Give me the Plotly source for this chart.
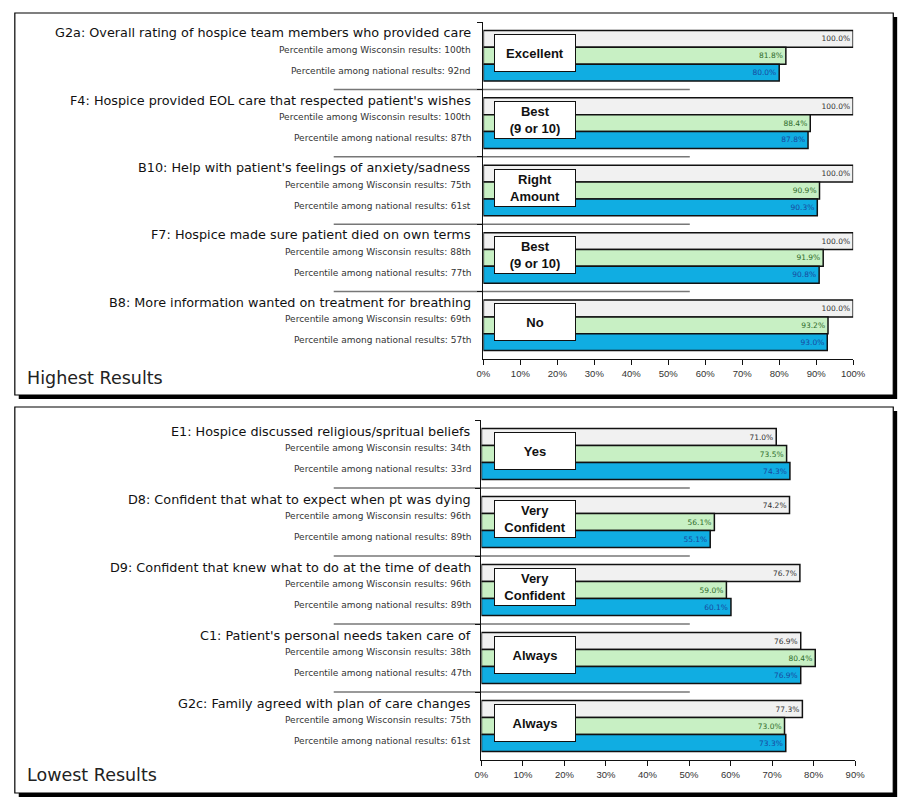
import plotly.graph_objects as go

W, H = 918, 807

# ---------------- data ----------------
top_questions = [
    "G2a: Overall rating of hospice team members who provided care",
    "F4: Hospice provided EOL care that respected patient's wishes",
    "B10: Help with patient's feelings of anxiety/sadness",
    "F7: Hospice made sure patient died on own terms",
    "B8: More information wanted on treatment for breathing",
]
top_answers = ["Excellent", "Best<br>(9 or 10)", "Right<br>Amount", "Best<br>(9 or 10)", "No"]
top_wisc_pct = ["100th", "100th", "75th", "88th", "69th"]
top_nat_pct = ["92nd", "87th", "61st", "77th", "57th"]
top_white = [100.0, 100.0, 100.0, 100.0, 100.0]
top_green = [81.8, 88.4, 90.9, 91.9, 93.2]
top_blue = [80.0, 87.8, 90.3, 90.8, 93.0]

bot_questions = [
    "E1: Hospice discussed religious/spritual beliefs",
    "D8: Confident that what to expect when pt was dying",
    "D9: Confident that knew what to do at the time of death",
    "C1: Patient's personal needs taken care of",
    "G2c: Family agreed with plan of care changes",
]
bot_answers = ["Yes", "Very<br>Confident", "Very<br>Confident", "Always", "Always"]
bot_wisc_pct = ["34th", "96th", "96th", "38th", "75th"]
bot_nat_pct = ["33rd", "89th", "89th", "47th", "61st"]
bot_white = [71.0, 74.2, 76.7, 76.9, 77.3]
bot_green = [73.5, 56.1, 59.0, 80.4, 73.0]
bot_blue = [74.3, 55.1, 60.1, 76.9, 73.3]

top_ticks = [0, 10, 20, 30, 40, 50, 60, 70, 80, 90, 100]
bot_ticks = [0, 10, 20, 30, 40, 50, 60, 70, 80, 90]
panel_titles = ["Highest Results", "Lowest Results"]

# ---------------- styling ----------------
FONT = "DejaVu Sans, Arial, sans-serif"
FONT_B = "Liberation Sans, Arial, sans-serif"
C_WHITE, C_GREEN, C_BLUE = "#f1f1f1", "#c8f0c4", "#10ade2"
T_WHITE, T_GREEN, T_BLUE = "#333333", "#2f6b2a", "#1a4aa0"


def px(x):
    return x / W


def py(y):
    return 1 - y / H


fig = go.Figure()

panels = [
    dict(q=top_questions, a=top_answers, wp=top_wisc_pct, np_=top_nat_pct,
         w=top_white, g=top_green, b=top_blue, ticks=top_ticks, rng=[0, 100],
         xa="x", ya="y", xdom=[px(487), px(865)], ydom=[py(359), py(22)],
         box=(8, 13, 906, 395), title=panel_titles[0], ty=378),
    dict(q=bot_questions, a=bot_answers, wp=bot_wisc_pct, np_=bot_nat_pct,
         w=bot_white, g=bot_green, b=bot_blue, ticks=bot_ticks, rng=[0, 90],
         xa="x2", ya="y2", xdom=[px(485), px(867)], ydom=[py(760), py(420)],
         box=(8, 407, 906, 793), title=panel_titles[1], ty=775),
]

shapes = []
annotations = []

for i, p in enumerate(panels):
    # panel frames (shadow + frame)
    x0, y0, x1, y1 = p["box"]
    shapes.append(dict(type="rect", xref="paper", yref="paper", layer="below",
                       x0=px(x0 + 4), x1=px(x1 + 4), y0=py(y1 + 4), y1=py(y0 + 4),
                       fillcolor="#000000", line=dict(width=0)))
    shapes.append(dict(type="rect", xref="paper", yref="paper", layer="below",
                       x0=px(x0), x1=px(x1), y0=py(y1), y1=py(y0),
                       fillcolor="#ffffff", line=dict(color="#000000", width=1.2)))

    for vals, col, tcol in [(p["w"], C_WHITE, T_WHITE), (p["g"], C_GREEN, T_GREEN),
                            (p["b"], C_BLUE, T_BLUE)]:
        fig.add_trace(go.Bar(
            y=p["q"], x=vals, orientation="h", xaxis=p["xa"], yaxis=p["ya"],
            marker=dict(color=col, line=dict(color="#111111", width=1.5)),
            text=[f"{v:.1f}%" for v in vals], textposition="inside",
            insidetextanchor="end", textangle=0,
            textfont=dict(family=FONT, size=7.5, color=tcol),
            cliponaxis=False, hoverinfo="skip", showlegend=False,
        ))

    yref = p["ya"]
    xref = p["xa"]
    for j, q in enumerate(p["q"]):
        annotations.append(dict(xref="paper", yref=yref, x=px(476), y=q, yshift=23,
                                text=q, showarrow=False, xanchor="right", yanchor="middle",
                                font=dict(family=FONT, size=12.8, color="#111111")))
        annotations.append(dict(xref="paper", yref=yref, x=px(476), y=q, yshift=6,
                                text=f"Percentile among Wisconsin results: {p['wp'][j]}",
                                showarrow=False, xanchor="right", yanchor="middle",
                                font=dict(family=FONT, size=9, color="#333333")))
        annotations.append(dict(xref="paper", yref=yref, x=px(476), y=q, yshift=-15,
                                text=f"Percentile among national results: {p['np_'][j]}",
                                showarrow=False, xanchor="right", yanchor="middle",
                                font=dict(family=FONT, size=9, color="#333333")))
        annotations.append(dict(xref="paper", yref=yref, x=px(540), y=q, yshift=3,
                                text=f"<b>{p['a'][j]}</b>", showarrow=False,
                                xanchor="center", yanchor="middle",
                                width=76, height=32, borderpad=2, align="center",
                                bgcolor="#ffffff", bordercolor="#111111", borderwidth=1,
                                font=dict(family=FONT_B, size=13, color="#111111")))
        if j < len(p["q"]) - 1:
            shapes.append(dict(type="line", xref="paper", yref=yref, layer="below",
                               x0=px(334), x1=px(698), y0=j + 0.5, y1=j + 0.5,
                               line=dict(color="#777777", width=1.5)))

    annotations.append(dict(xref="paper", yref="paper", x=px(18), y=py(p["ty"]),
                            text=p["title"], showarrow=False,
                            xanchor="left", yanchor="middle",
                            font=dict(family=FONT, size=17.5, color="#222222")))

    axis_x = dict(domain=p["xdom"], range=p["rng"], anchor=yref,
                  tickvals=p["ticks"], ticktext=[f"{t}%" for t in p["ticks"]],
                  showgrid=False, zeroline=False, showline=True,
                  linecolor="#111111", linewidth=1.2, ticks="outside",
                  ticklen=5, tickcolor="#111111",
                  tickfont=dict(family=FONT_B, size=9.5, color="#333333"))
    axis_y = dict(domain=p["ydom"], anchor=xref, autorange="reversed",
                  categoryorder="array", categoryarray=p["q"],
                  showticklabels=False, showgrid=False, zeroline=False,
                  showline=True, linecolor="#111111", linewidth=1.2,
                  ticks="outside", tickson="boundaries", ticklen=5,
                  tickcolor="#111111")
    if i == 0:
        fig.update_layout(xaxis=axis_x, yaxis=axis_y)
    else:
        fig.update_layout(xaxis2=axis_x, yaxis2=axis_y)

fig.update_layout(
    width=W, height=H, margin=dict(l=0, r=0, t=0, b=0),
    barmode="group", bargap=0.25, bargroupgap=0,
    paper_bgcolor="#ffffff", plot_bgcolor="rgba(0,0,0,0)",
    shapes=shapes, annotations=annotations, showlegend=False,
    uniformtext=dict(minsize=6, mode="show"),
)

fig.write_html("out.html", config={"displayModeBar": False},
               post_script="document.body.style.margin='0px';")
